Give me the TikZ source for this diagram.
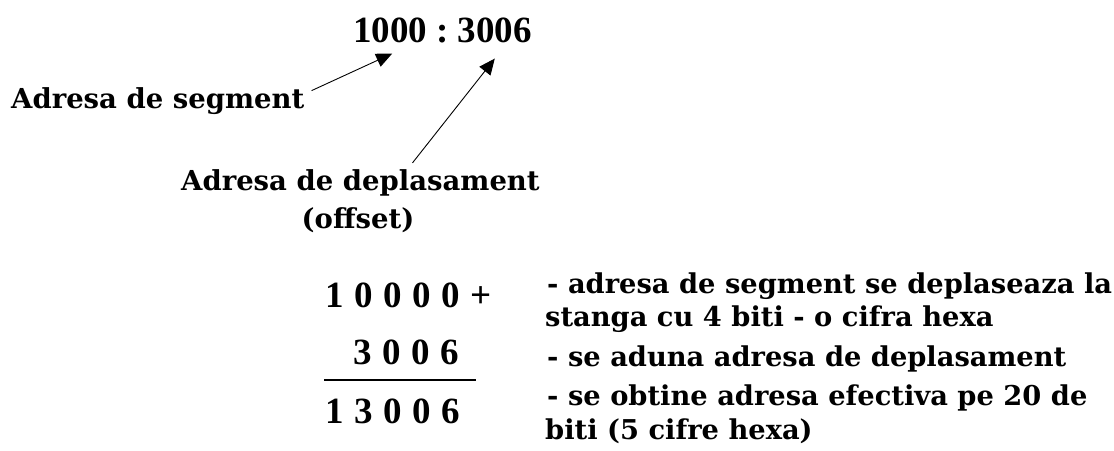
\documentclass[tikz,border=0pt]{standalone}
\usepackage{fontspec}
\setmainfont{Liberation Serif}
\newfontfamily\dvs{DejaVu Serif}
\usetikzlibrary{arrows.meta}
\newcommand\gp{\hspace*{10.5pt}}
\tikzset{
  lbl/.style={inner sep=0pt, anchor=base west, font=\dvs\bfseries\fontsize{27.5}{32}\selectfont},
  big/.style={inner sep=0pt, anchor=base west, font=\bfseries\fontsize{37}{42}\selectfont},
  sum/.style={inner sep=0pt, anchor=base west, font=\bfseries\fontsize{37}{42}\selectfont},
  note/.style={inner sep=0pt, anchor=base west, font=\dvs\bfseries\fontsize{27.3}{32}\selectfont},
  arr/.style={line width=0.9pt, -{Triangle[length=16pt,width=14pt]}}
}
\begin{document}
\begin{tikzpicture}[x=1pt,y=-1pt]
\useasboundingbox (0,0) rectangle (1114,450);
% top address
\node[big] (seg) at (353,42) {1000};
\node[big, anchor=base] (colon) at (443,42) {:};
\node[big, anchor=base east] (off) at (532,42) {3006};
% labels
\node[lbl] (segl) at (11,108) {Adresa de segment};
\node[lbl] (offl) at (181,190) {Adresa de deplasament};
\node[lbl, anchor=base] (offs) at (358,228) {(offset)};
\coordinate (t1) at ([shift={(2,11)}]seg.south);
\coordinate (t2) at ([shift={(0,16)}]off.south);
\draw[arr] ([shift={(7,-10)}]segl.east) -- (t1);
\draw[arr] ([shift={(52,-6)}]offl.north) -- (t2);
% sum
\node[sum] (a) at (325,307) {1\gp0\gp0\gp0\gp0\gp+};
\node[sum] (b) at (353,364) {3\gp0\gp0\gp6};
\node[sum] (c) at (325,423) {1\gp3\gp0\gp0\gp6};
\coordinate (l1) at (324,380);
\coordinate (l2) at (476,380);
\draw[line width=1.8pt] (l1) -- (l2);
% notes
\node[note] (n1) at (547,293) {- adresa de segment se deplaseaza la};
\node[note] (n2) at (545,326) {stanga cu 4 biti - o cifra hexa};
\node[note] (n3) at (547,366) {- se aduna adresa de deplasament};
\node[note] (n4) at (547,405) {- se obtine adresa efectiva pe 20 de};
\node[note] (n5) at (545,439) {biti (5 cifre hexa)};
\end{tikzpicture}
\end{document}
